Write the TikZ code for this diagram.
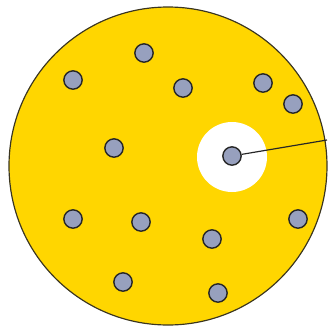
\documentclass[tikz,border=0pt]{standalone}
\usetikzlibrary{calc}

\definecolor{diskyellow}{HTML}{FFD600}
\definecolor{dotgray}{HTML}{97A0BE}
\definecolor{rimdark}{HTML}{3A3520}

\begin{document}
\begin{tikzpicture}[
  x=0.3mm,y=-0.3mm,
  disk/.style={draw=rimdark,line width=1pt,fill=diskyellow},
  hole/.style={fill=white},
  atom/.style={circle,draw=black!85,line width=1.2pt,fill=dotgray,inner sep=0pt,minimum size=5.5mm},
  link/.style={draw=black!85,line width=1pt},
]
\useasboundingbox (0,0) rectangle (329,330);

\draw[disk] (168,166) circle[radius=159];
\fill[hole] (232,157) circle[radius=35];

\foreach \name/\x/\y in {a/144/53,b/73/80,c/183/88,d/263/83,e/293/104,f/114/148,
  g/73/219,h/141/222,i/212/239,j/298/219,k/123/282,l/218/293}
  \node[atom] (\name) at (\x,\y) {};

\node[atom] (centre) at (232,156) {};
\coordinate (rim) at (327,140);
\draw[link] (centre) -- (rim);

\end{tikzpicture}
\end{document}
